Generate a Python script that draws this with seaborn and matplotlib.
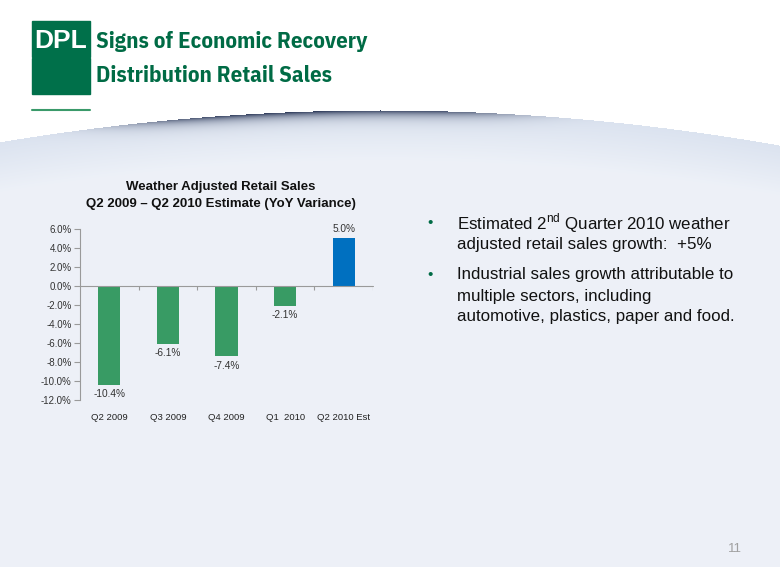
import numpy as np
import pandas as pd
import matplotlib
matplotlib.use("Agg")
import matplotlib.pyplot as plt
import seaborn as sns
from matplotlib.patches import Rectangle
from matplotlib.ticker import FuncFormatter

# data
quarters = ["Q2 2009", "Q3 2009", "Q4 2009", "Q1  2010", "Q2 2010 Est"]
variance = [-10.4, -6.1, -7.4, -2.1, 5.0]
bar_colors = ["#389b64", "#389b64", "#389b64", "#389b64", "#0070c0"]
y_ticks = [6, 4, 2, 0, -2, -4, -6, -8, -10, -12]

bullets = [
    ["Estimated 2$^{\\mathregular{nd}}$ Quarter 2010 weather",
     "adjusted retail sales growth:  +5%"],
    ["Industrial sales growth attributable to",
     "multiple sectors, including",
     "automotive, plastics, paper and food."],
]

sns.set_style("white")
plt.rcParams["font.family"] = ["Liberation Sans", "DejaVu Sans"]

W, H = 780, 567
fig = plt.figure(figsize=(W / 100, H / 100), dpi=100)

# slide background (pixel coordinates)
bg = fig.add_axes([0, 0, 1, 1], zorder=-1)
bg.set_xlim(0, W)
bg.set_ylim(H, 0)
bg.axis("off")

xx, yy = np.meshgrid(np.arange(W), np.arange(H))
curve = 110 + 0.00022 * (xx - 380) ** 2
d = yy - curve
white = np.array([1.0, 1.0, 1.0])
top_blue = np.array([0.86, 0.89, 0.94])
light_blue = np.array([0.93, 0.945, 0.972])
t = np.clip(d / 50.0, 0, 1)[..., None]
grad = top_blue * (1 - t) + light_blue * t
img = np.where((d >= 0)[..., None], grad, white)
# dark swoosh edge
band = np.exp(-((xx - 320) / 190.0) ** 4) * (d >= 0) * np.exp(-np.clip(d, 0, None) / 5.0)
navy = np.array([0.12, 0.17, 0.3])
img = img * (1 - band[..., None] * 0.9) + navy * band[..., None] * 0.9
bg.imshow(img, extent=[0, W, H, 0], aspect="auto", zorder=0)

# logo
logo_green = "#00704a"
bg.add_patch(Rectangle((32, 21), 58, 36, color=logo_green, zorder=2))
bg.add_patch(Rectangle((32, 58), 58, 36, color=logo_green, zorder=2))
bg.text(61, 48, "DPL", color="white", fontsize=19, fontweight="bold",
        ha="center", va="baseline", zorder=3)
bg.plot([32, 90], [110, 110], color="#3a9a6a", lw=1.5, zorder=2)

title_font = ["IBM Plex Sans Condensed", "Liberation Sans", "DejaVu Sans"]
bg.text(96, 48, "Signs of Economic Recovery", color="#006b45", fontsize=16.5,
        fontweight="bold", family=title_font, va="baseline", zorder=3)
bg.text(96, 82, "Distribution Retail Sales", color="#006b45", fontsize=16.5,
        fontweight="bold", family=title_font, va="baseline", zorder=3)

# chart title
bg.text(221, 190, "Weather Adjusted Retail Sales", fontsize=9.5,
        fontweight="bold", ha="center", va="baseline", color="#111111")
bg.text(221, 207, "Q2 2009 \u2013 Q2 2010 Estimate (YoY Variance)", fontsize=9.5,
        fontweight="bold", ha="center", va="baseline", color="#111111")

# bullets
line_y = [[223, 244], [275, 296, 317]]
for lines, ys in zip(bullets, line_y):
    bg.text(430, ys[0], "\u2022", color="#006b45", fontsize=11, ha="center", va="center")
    for txt, y in zip(lines, ys):
        bg.text(457, y, txt, fontsize=12.2, color="#111111", va="center")

bg.text(735, 549, "11", fontsize=9.5, color="#a0a0a0", ha="center", va="center")

# chart
ax = fig.add_axes([80 / W, 1 - 400 / H, 293 / W, 171 / H])
ax.patch.set_alpha(0)
df = pd.DataFrame({"quarter": quarters, "variance": variance})
sns.barplot(data=df, x="quarter", y="variance", hue="quarter",
            palette=bar_colors, width=0.38, legend=False, ax=ax,
            saturation=1, edgecolor="none")

ax.set_xlim(-0.5, len(quarters) - 0.5)
ax.set_ylim(-12, 6)
ax.set_yticks(y_ticks)
ax.yaxis.set_major_formatter(FuncFormatter(lambda v, p: f"{v:.1f}%"))
ax.set_xlabel("")
ax.set_ylabel("")
for s in ["top", "right", "bottom"]:
    ax.spines[s].set_visible(False)
ax.spines["left"].set_color("#9a9a9a")
ax.spines["left"].set_linewidth(0.8)
ax.tick_params(axis="y", length=4, width=0.8, color="#9a9a9a",
               labelsize=7, labelcolor="#333333", pad=2, left=True)
ax.tick_params(axis="x", length=0, labelsize=6.8, labelcolor="#222222", pad=9)

# category axis crossing at zero
ax.plot([-0.5, len(quarters) - 0.5], [0, 0], color="#9a9a9a", lw=0.8, clip_on=False)
ax.vlines(np.arange(len(quarters)) + 0.5, -0.42, 0, color="#9a9a9a", lw=0.8)

for i, v in enumerate(variance):
    off = 0.45 if v > 0 else -0.45
    ax.text(i, v + off, f"{v:.1f}%", ha="center", va="bottom" if v > 0 else "top",
            fontsize=7.3, color="#333333")

fig.savefig("out.png", dpi=100)
